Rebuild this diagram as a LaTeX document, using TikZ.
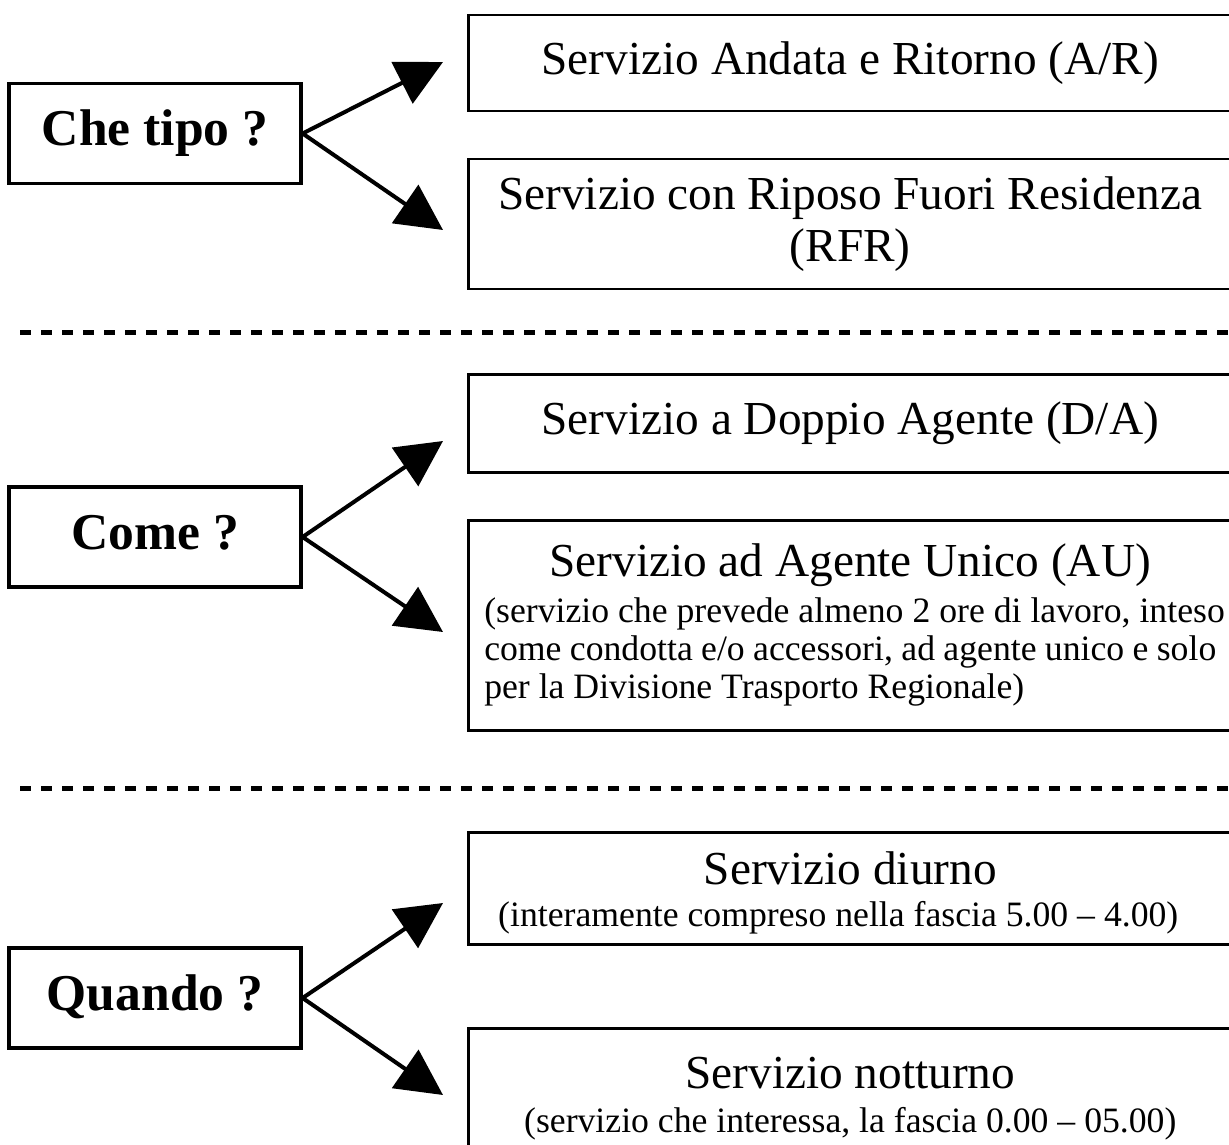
\documentclass[tikz,border=0pt]{standalone}
\usepackage{fontspec}
\setmainfont{Liberation Serif}
\usetikzlibrary{arrows.meta}

\newcommand{\bigf}{\fontsize{23.65pt}{26pt}\selectfont}
\newcommand{\smallf}{\fontsize{17.85pt}{19pt}\selectfont}

\begin{document}
\begin{tikzpicture}[x=0.5pt,y=-0.5pt,
	domanda/.style={draw, line width=1.6pt, minimum width=146pt, minimum height=50pt, inner sep=0pt,
		font=\fontsize{25.8pt}{28pt}\selectfont\bfseries, text height=17.8pt, text depth=5.7pt},
	servizio/.style={draw, line width=1.25pt, anchor=north west, text width=366pt, inner xsep=8pt,
		inner ysep=0pt, align=flush center, font=\bigf},
	freccia/.style={line width=2pt, -{Triangle[length=23pt,width=23pt]}},
	separa/.style={line width=2.5pt, dash pattern=on 5.5pt off 5pt}]
			\useasboundingbox (0,0) rectangle (1229,1144);
			\clip (0,0) rectangle (1229,1144);
			% Che tipo ?
			\node[domanda] (tipo) at (155,133.5) {Che tipo ?};
			\node[servizio, minimum height=48pt] (ar) at (467,14) {Servizio Andata e Ritorno (A/R)};
			\node[servizio, minimum height=65pt] (rfr) at (467,158) {Servizio con Riposo Fuori Residenza\\(RFR)};
			\coordinate (tipoSu) at (443,62);
			\coordinate (tipoGiu) at (443,230);
			\draw[freccia] (tipo.east) -- (tipoSu);
			\draw[freccia] (tipo.east) -- (tipoGiu);
			\draw[separa] (20,332) -- (1229,332);
			% Come ?
			\node[domanda] (come) at (155,537) {Come ?};
			\node[servizio, minimum height=49pt] (da) at (467,373) {Servizio a Doppio Agente (D/A)};
			\node[servizio, minimum height=105pt, align=flush left] (au) at (467,519)
				{\makebox[\linewidth]{\bigf Servizio ad Agente Unico (AU)}\\[4pt]
				\smallf \mbox{(servizio che prevede almeno 2 ore di lavoro, inteso}\\
				come condotta e/o accessori, ad agente unico e solo\\
				per la Divisione Trasporto Regionale)\par};
			\coordinate (comeSu) at (443,441);
			\coordinate (comeGiu) at (443,632);
			\draw[freccia] (come.east) -- (comeSu);
			\draw[freccia] (come.east) -- (comeGiu);
			\draw[separa] (20,788.5) -- (1229,788.5);
			% Quando ?
			\node[domanda] (quando) at (155,998) {Quando ?};
			\node[servizio, minimum height=56pt] (diurno) at (467,831)
				{\rule{0pt}{21pt}Servizio diurno\\[2pt]\smallf (interamente compreso nella fascia 5.00 – 4.00)\kern12pt\par};
			\node[servizio, minimum height=64pt] (notturno) at (467,1027)
				{\rule{0pt}{22pt}Servizio notturno\\[3pt]\smallf (servizio che interessa, la fascia 0.00 – 05.00)\par};
			\coordinate (quandoSu) at (443,903);
			\coordinate (quandoGiu) at (443,1095);
			\draw[freccia] (quando.east) -- (quandoSu);
			\draw[freccia] (quando.east) -- (quandoGiu);
\end{tikzpicture}
\end{document}
